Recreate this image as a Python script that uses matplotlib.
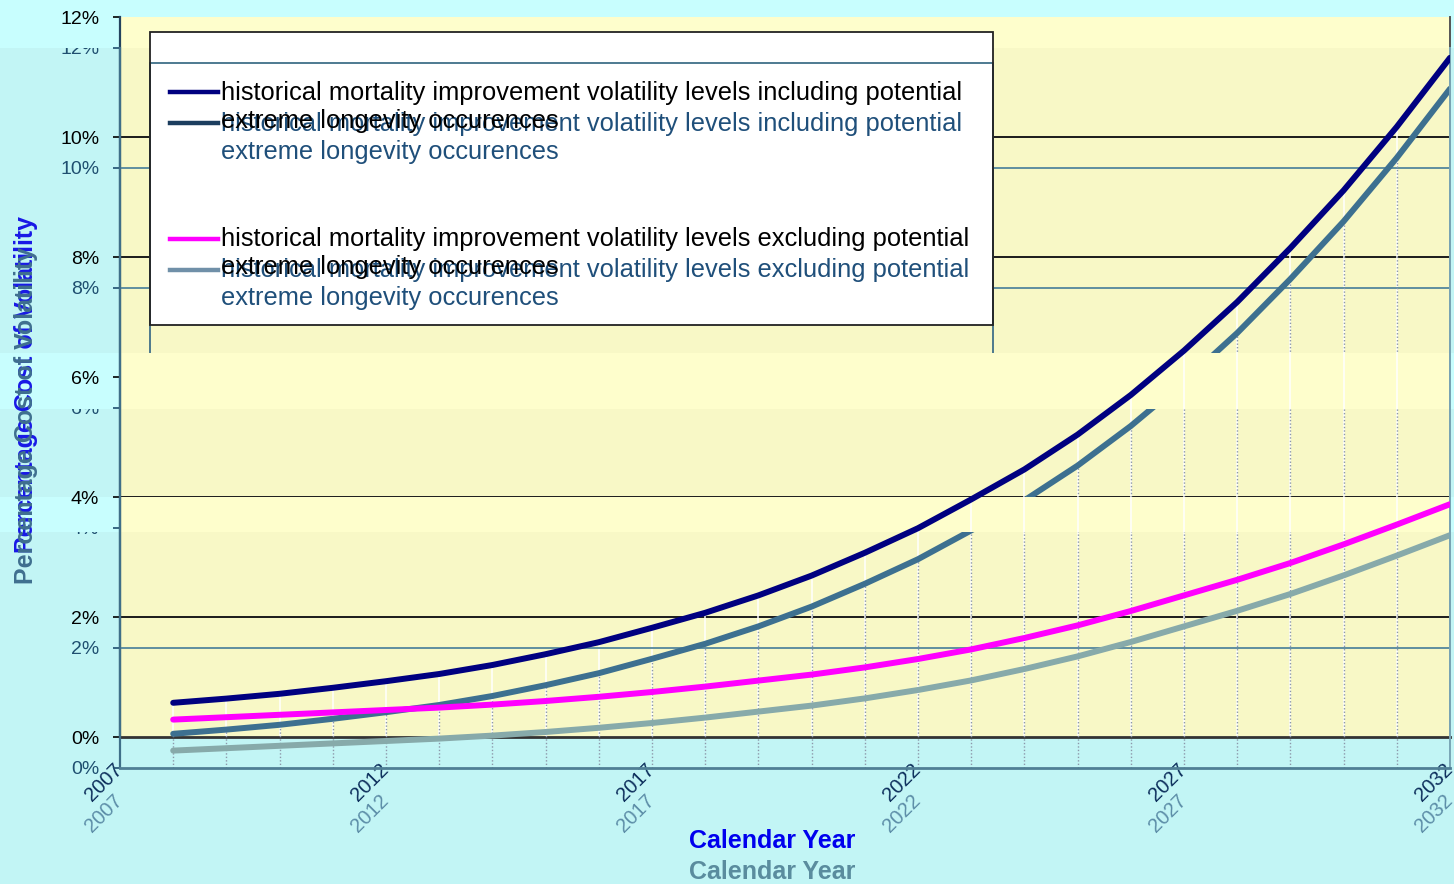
"""Costo porcentual de volatilidad por año calendario.

El gráfico de referencia es una captura con una copia "fantasma" del mismo
gráfico desplazada unos 31 px hacia abajo y con colores apagados, y con
algunas franjas horizontales donde solo se ve la capa principal. Se dibuja
la misma serie de datos dos veces: una capa principal y una capa fantasma.
"""

import matplotlib

matplotlib.use("Agg")  # sin ventana
import matplotlib.pyplot as plt
import numpy as np
from matplotlib.legend_handler import HandlerLine2D
from matplotlib.lines import Line2D
from matplotlib.patches import Rectangle
from matplotlib.path import Path
from matplotlib.ticker import FuncFormatter
from matplotlib.transforms import Affine2D, Bbox, TransformedBbox

# --- datos ---
ANIOS = list(range(2008, 2033))
COSTO_INCLUYENDO = [0.57, 0.64, 0.72, 0.82, 0.93, 1.05, 1.20, 1.38, 1.58, 1.82,
                    2.07, 2.36, 2.69, 3.07, 3.48, 3.96, 4.46, 5.04, 5.70, 6.44,
                    7.25, 8.15, 9.11, 10.17, 11.32]
COSTO_EXCLUYENDO = [0.29, 0.33, 0.37, 0.41, 0.45, 0.49, 0.54, 0.60, 0.67, 0.75,
                    0.84, 0.94, 1.04, 1.16, 1.30, 1.46, 1.65, 1.86, 2.10, 2.36,
                    2.62, 2.90, 3.21, 3.54, 3.88]
TICKS_Y = [0, 2, 4, 6, 8, 10, 12]
TICKS_X = [2007, 2012, 2017, 2022, 2027, 2032]
ETIQUETAS_SERIES = [
    "historical mortality improvement volatility levels including potential\n"
    "extreme longevity occurences",
    "historical mortality improvement volatility levels excluding potential\n"
    "extreme longevity occurences",
]
TITULO_X = "Calendar Year"
TITULO_Y = "Percentage Cost of Volatility"

# --- geometría (px, desde arriba) ---
ANCHO, ALTO = 1454, 884
IZQ, DER, ARR, ABA = 120, 1450, 17, 737
DESFASE = 31  # desplazamiento vertical de la copia fantasma
CAJA_LEYENDA = (150, 32, 993, 325)  # izq, arr, der, aba
FRANJAS = [(0, 48), (353, 409), (497, 532)]  # franjas sin capa fantasma ni rejilla

ESTILO_PRINCIPAL = {
    "rejilla": "#1c1c1c", "eje_izq": "#23435e", "eje_aba": "#333333", "eje_der": "#555555",
    "ticks_y": "#000000", "ticks_x": "#0d2f5c", "titulo_x": "#0000ee", "titulo_y": "#1818e6",
    "lineas": ["#000080", "#ff00ff"], "lineas_leyenda": ["#000080", "#ff00ff"],
    "texto_leyenda": "#000000", "marco": "#222222",
}
ESTILO_FANTASMA = {
    "rejilla": "#5f8f9f", "eje_izq": "#3f6f88", "eje_aba": "#4f7f95", "eje_der": "#7aa6b6",
    "ticks_y": "#1f4f70", "ticks_x": "#5d8ea8", "titulo_x": "#5a8c9e", "titulo_y": "#3f6f8f",
    "lineas": ["#3d7090", "#87aaaa"], "lineas_leyenda": ["#1b3d5e", "#7090a8"],
    "texto_leyenda": "#1f4f7a", "marco": "#3f6f88",
}

TAM_LEYENDA = 18.4
INTERLINEADO = 1.2

plt.rcParams["font.family"] = ["Liberation Sans", "DejaVu Sans"]


class ManejadorPrimeraLinea(HandlerLine2D):
    """Sube el trazo de la leyenda a la altura de la primera línea del texto."""

    def create_artists(self, legend, orig_handle, xdescent, ydescent, width, height,
                       fontsize, trans):
        artistas = super().create_artists(legend, orig_handle, xdescent, ydescent,
                                          width, height, fontsize, trans)
        for a in artistas:
            a.set_ydata(np.asarray(a.get_ydata()) + 0.5 * INTERLINEADO * fontsize)
        return artistas


def rect_ejes(desfase=0):
    return [IZQ / ANCHO, (ALTO - ABA - desfase) / ALTO, (DER - IZQ) / ANCHO, (ABA - ARR) / ALTO]


def caja_en_ejes():
    """Caja de la leyenda en fracción de ejes (x0, y0, ancho, alto)."""
    izq, arr, der, aba = CAJA_LEYENDA
    x0 = (izq - IZQ) / (DER - IZQ)
    y0 = (ABA - aba) / (ABA - ARR)
    return x0, y0, (der - izq) / (DER - IZQ), (aba - arr) / (ABA - ARR)


def intervalos_visibles():
    cortes = [0] + [v for franja in FRANJAS for v in franja] + [ALTO]
    return [(a, b) for a, b in zip(cortes[0::2], cortes[1::2]) if b > a]


def trayecto_visible():
    """Regiones fuera de las franjas, en fracción de figura.

    Se crea un Path nuevo en cada llamada: Agg guarda en caché la máscara
    por identidad del trayecto, junto con la caja de recorte del primer uso.
    """
    rects = []
    for arriba, abajo in intervalos_visibles():
        y0 = (ALTO - abajo) / ALTO
        alto = (abajo - arriba) / ALTO
        rects.append(Path.unit_rectangle().transformed(Affine2D().scale(1, alto).translate(0, y0)))
    return Path.make_compound_path(*rects)


def caja_texto_visible(fig, y_px):
    """Caja de recorte (un solo rectángulo) para un texto centrado en y_px."""
    for arriba, abajo in intervalos_visibles():
        if arriba <= y_px + 5 < abajo:
            break
    bbox = Bbox([[0, (ALTO - abajo) / ALTO], [1, (ALTO - arriba) / ALTO]])
    return TransformedBbox(bbox, fig.transFigure)


def configurar_ejes(ax, est):
    ax.set_xlim(TICKS_X[0], TICKS_X[-1])
    ax.set_ylim(TICKS_Y[0], TICKS_Y[-1])
    ax.set_xticks(TICKS_X)
    ax.set_yticks(TICKS_Y)
    ax.yaxis.set_major_formatter(FuncFormatter(lambda v, _: f"{v:.0f}%"))
    ax.spines["top"].set_visible(False)
    ax.spines["left"].set_color(est["eje_izq"])
    ax.spines["left"].set_linewidth(1.6)
    ax.spines["bottom"].set_color(est["eje_aba"])
    ax.spines["bottom"].set_linewidth(2.0)
    ax.spines["right"].set_color(est["eje_der"])
    ax.spines["right"].set_linewidth(1.4)
    ax.tick_params(axis="y", length=5, width=1.2, color=est["ticks_y"], pad=10,
                   labelsize=14, labelcolor=est["ticks_y"])
    ax.tick_params(axis="x", length=0, pad=21, labelsize=14.5, labelcolor=est["ticks_x"])
    for lab in ax.get_xticklabels():
        lab.set_rotation(45)
        lab.set_ha("right")
        lab.set_va("center")
        lab.set_rotation_mode("anchor")
    rejilla = ax.hlines(TICKS_Y[1:-1], TICKS_X[0], TICKS_X[-1], colors=est["rejilla"],
                        linewidth=1.4, zorder=0.8)
    ax.set_xlabel(TITULO_X, fontsize=18, fontweight="bold", color=est["titulo_x"])
    ax.xaxis.set_label_coords(0.490, -0.128)
    ax.set_ylabel(TITULO_Y, fontsize=18, fontweight="bold", color=est["titulo_y"])
    ax.yaxis.set_label_coords(-0.062, 0.489)
    return rejilla


def dibujar_leyenda(ax, est):
    manejadores = [Line2D([], [], color=c, linewidth=3.2) for c in est["lineas_leyenda"]]
    leyenda = ax.legend(
        manejadores, ETIQUETAS_SERIES, loc="upper left", bbox_to_anchor=(0.0376, 0.911),
        frameon=False, borderpad=0, borderaxespad=0, fontsize=TAM_LEYENDA,
        handlelength=1.88, handletextpad=0.12, labelspacing=3.7,
        handler_map={Line2D: ManejadorPrimeraLinea()},
    )
    for texto in leyenda.get_texts():
        texto.set_color(est["texto_leyenda"])
        texto.set_linespacing(INTERLINEADO)
    leyenda.set_zorder(6)
    x0, y0, w, h = caja_en_ejes()
    marco = Rectangle((x0, y0), w, h, transform=ax.transAxes, facecolor="none",
                      edgecolor=est["marco"], linewidth=1.3, zorder=5, clip_on=False)
    ax.add_patch(marco)
    return marco


fig = plt.figure(figsize=(ANCHO / 100, ALTO / 100), dpi=100, facecolor="#c2f5f5")

# franjas algo más claras del fondo
for arriba, abajo in FRANJAS:
    fig.add_artist(Rectangle((0, (ALTO - abajo) / ALTO), 1, (abajo - arriba) / ALTO,
                             transform=fig.transFigure, facecolor="#c8fefe",
                             edgecolor="none", zorder=-1))

# capa base: fondo amarillo, rejilla y ejes principales
ax_base = fig.add_axes(rect_ejes(), zorder=0, facecolor="#f8f8c6")
for arriba, abajo in FRANJAS:
    ax_base.add_patch(Rectangle((0, (ALTO - abajo) / ALTO), 1, (abajo - arriba) / ALTO,
                                transform=fig.transFigure, facecolor="#fefecc",
                                edgecolor="none", zorder=0.2))
rejilla_base = configurar_ejes(ax_base, ESTILO_PRINCIPAL)
rejilla_base.set_clip_path(trayecto_visible(), fig.transFigure)
ax_base.vlines(ANIOS, 0, COSTO_INCLUYENDO, colors="white", linewidth=1.1, zorder=1)

# capa fantasma, desplazada hacia abajo
ax_fant = fig.add_axes(rect_ejes(DESFASE), zorder=1, facecolor="none")
recortables = [configurar_ejes(ax_fant, ESTILO_FANTASMA)]
recortables.append(ax_fant.vlines(ANIOS, 0, COSTO_INCLUYENDO, colors="#8c98aa", linewidth=1.0,
                                  linestyles=(0, (1, 1.5)), zorder=1))
for serie, color in zip([COSTO_INCLUYENDO, COSTO_EXCLUYENDO], ESTILO_FANTASMA["lineas"]):
    recortables += ax_fant.plot(ANIOS, serie, color=color, linewidth=4.3,
                                solid_capstyle="round", zorder=2)
# relleno blanco de la leyenda principal, tapa la rejilla fantasma
x0, y0, w, h = caja_en_ejes()
ax_fant.add_patch(Rectangle((x0, y0), w, h, transform=ax_base.transAxes, facecolor="white",
                            edgecolor="none", zorder=4, clip_on=False))
recortables.append(dibujar_leyenda(ax_fant, ESTILO_FANTASMA))
for artista in recortables:
    artista.set_clip_on(True)
    artista.set_clip_path(trayecto_visible(), fig.transFigure)

# las etiquetas del eje y fantasma se recortan con una caja (Agg no recorta texto con trayectos)
escala = (ABA - ARR) / (TICKS_Y[-1] - TICKS_Y[0])
for valor, etiqueta in zip(TICKS_Y, ax_fant.get_yticklabels()):
    y_px = ABA + DESFASE - (valor - TICKS_Y[0]) * escala
    etiqueta.set_clip_on(True)
    etiqueta.set_clip_box(caja_texto_visible(fig, y_px))

# capa superior: series y leyenda principales
ax_sup = fig.add_axes(rect_ejes(), zorder=2, facecolor="none")
ax_sup.set_xlim(TICKS_X[0], TICKS_X[-1])
ax_sup.set_ylim(TICKS_Y[0], TICKS_Y[-1])
ax_sup.axis("off")
for serie, color in zip([COSTO_INCLUYENDO, COSTO_EXCLUYENDO], ESTILO_PRINCIPAL["lineas"]):
    ax_sup.plot(ANIOS, serie, color=color, linewidth=4.3, solid_capstyle="round", zorder=2)
dibujar_leyenda(ax_sup, ESTILO_PRINCIPAL)

fig.savefig("out.png", dpi=100, facecolor=fig.get_facecolor())
